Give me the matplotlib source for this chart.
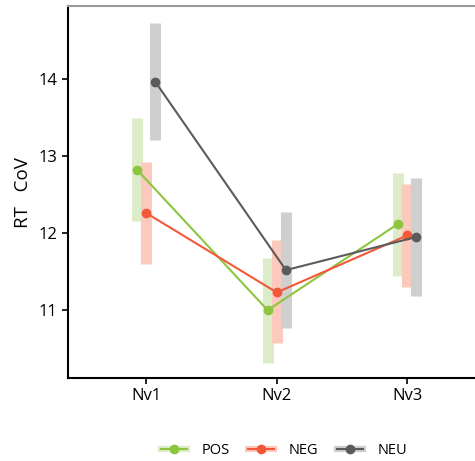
import numpy as np
from matplotlib import pyplot as plt
from matplotlib.lines import Line2D

levels = ['Nv1', 'Nv2', 'Nv3']
groups = ['POS', 'NEG', 'NEU']
means = {
    'POS': [12.82, 11.00, 12.12],
    'NEG': [12.26, 11.23, 11.97],
    'NEU': [13.96, 11.52, 11.95],
}
lower = {
    'POS': [12.16, 10.32, 11.44],
    'NEG': [11.60, 10.57, 11.30],
    'NEU': [13.21, 10.77, 11.19],
}
upper = {
    'POS': [13.49, 11.68, 12.78],
    'NEG': [12.92, 11.91, 12.64],
    'NEU': [14.73, 12.27, 12.71],
}
colors = {'POS': '#8cc63e', 'NEG': '#f4583a', 'NEU': '#5b5b5b'}
band_colors = {'POS': '#dcecc8', 'NEG': '#fcc9bd', 'NEU': '#cfcfcf'}
offsets = {'POS': -0.07, 'NEG': 0.0, 'NEU': 0.07}

plt.rcParams['font.family'] = ['Open Sans', 'DejaVu Sans']

fig = plt.figure(figsize=(4.75, 4.61), dpi=100)
ax = fig.add_axes([0.1432, 0.18, 0.857, 0.806])

x = np.arange(1, len(levels) + 1)
handles = []
for g in groups:
    xs = x + offsets[g]
    ax.vlines(xs, lower[g], upper[g], color=band_colors[g], linewidth=8, zorder=1)
for g in groups:
    xs = x + offsets[g]
    ax.plot(xs, means[g], color=colors[g], linewidth=1.5, marker='o', markersize=6, zorder=3)
    band = Line2D([], [], color=band_colors[g], linewidth=4.5)
    pt = Line2D([], [], color=colors[g], linewidth=1.5, marker='o', markersize=6)
    handles.append((band, pt))

ax.set_xlim(0.4, 3.52)
ax.set_ylim(10.12, 14.94)
ax.set_xticks(x)
ax.set_xticklabels(levels)
ax.set_yticks([11, 12, 13, 14])
ax.tick_params(labelsize=12, colors='black', length=4, width=1.2)
ax.set_ylabel('RT   CoV', fontsize=13.5, labelpad=5)
ax.spines['right'].set_visible(False)
ax.spines['left'].set_linewidth(1.5)
ax.spines['bottom'].set_linewidth(1.5)
ax.spines['top'].set_color('#9a9a9a')
ax.spines['top'].set_linewidth(1.5)

fig.legend(handles, groups, loc='center', bbox_to_anchor=(0.598, 0.022),
           ncol=3, frameon=False, fontsize=10.5, handlelength=1.8,
           columnspacing=1.25, handletextpad=1.0)

fig.savefig('out.png', dpi=100)
